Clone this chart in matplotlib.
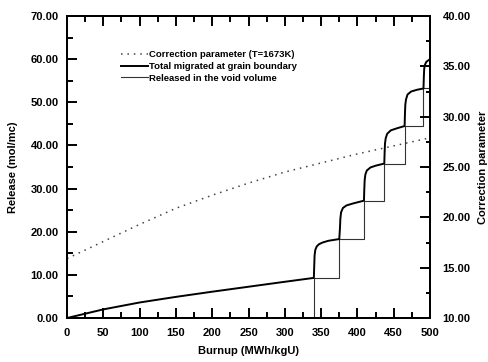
import matplotlib
matplotlib.use("Agg")
import matplotlib.pyplot as plt
from matplotlib.ticker import MultipleLocator, FormatStrFormatter

plt.rcParams['font.family'] = ['Liberation Sans', 'DejaVu Sans']
plt.rcParams['font.weight'] = 'bold'

# ---- data ----
# Correction parameter (right axis)
corr_x = [0, 50, 100, 150, 200, 250, 300, 350, 400, 450, 500]
corr_y = [15.9, 17.6, 19.3, 20.9, 22.2, 23.4, 24.5, 25.4, 26.3, 27.1, 27.9]

# Total migrated at grain boundary (left axis)
total_x = [0, 25, 50, 100, 150, 200, 250, 300, 340,
           340.5, 341, 342, 344, 347, 352, 360, 375,
           376, 376.5, 377.5, 380, 385, 395, 409,
           409.5, 410, 411, 413, 418, 425, 437,
           437.5, 438, 439, 441, 446, 455, 465,
           465.5, 466, 467, 469, 474, 482, 491,
           491.5, 492, 493, 495, 500]
total_y = [0, 1.0, 2.0, 3.6, 4.9, 6.1, 7.25, 8.4, 9.3,
           12.0, 14.5, 15.8, 16.6, 17.1, 17.5, 17.9, 18.3,
           21.0, 23.0, 24.5, 25.5, 26.1, 26.6, 27.2,
           30.0, 32.0, 33.3, 34.2, 34.9, 35.3, 35.8,
           38.5, 40.5, 41.7, 42.7, 43.5, 44.0, 44.5,
           47.5, 49.5, 50.7, 51.8, 52.5, 52.9, 53.2,
           56.0, 57.8, 58.7, 59.4, 60.0]

# Released in the void volume (left axis), step values
void_x = [0, 340, 375, 409, 437, 465, 491, 500]
void_y = [0, 9.3, 18.3, 27.2, 35.8, 44.5, 53.2, 53.2]

labels = ["Correction parameter (T=1673K)",
          "Total migrated at grain boundary",
          "Released in the void volume"]

fig = plt.figure(figsize=(4.88, 3.62), dpi=100)
ax = fig.add_axes([0.1373, 0.1215, 0.7439, 0.8343])
ax2 = ax.twinx()

l2, = ax.plot(total_x, total_y, color='black', lw=1.4, zorder=3)
l3, = ax.step(void_x, void_y, where='post', color='#333333', lw=0.8, zorder=2)
l1, = ax2.plot(corr_x, corr_y, color='#444444', lw=1.1, linestyle=(0, (1, 3.2)))

ax.set_xlim(0, 500)
ax.set_ylim(0, 70)
ax2.set_ylim(10, 40)

ax.xaxis.set_major_locator(MultipleLocator(50))
ax.xaxis.set_minor_locator(MultipleLocator(25))
ax.yaxis.set_major_locator(MultipleLocator(10))
ax.yaxis.set_minor_locator(MultipleLocator(5))
ax.yaxis.set_major_formatter(FormatStrFormatter('%.2f'))
ax2.yaxis.set_major_locator(MultipleLocator(5))
ax2.yaxis.set_minor_locator(MultipleLocator(2.5))
ax2.yaxis.set_major_formatter(FormatStrFormatter('%.2f'))

for a in (ax, ax2):
    for s in a.spines.values():
        s.set_linewidth(1.4)

ax.tick_params(axis='x', which='both', direction='in', top=True, bottom=True,
               labelsize=8, pad=7, width=1.4)
ax.tick_params(axis='x', which='major', length=7)
ax.tick_params(axis='x', which='minor', length=4)
ax.tick_params(axis='y', which='both', direction='in', left=True, right=False,
               labelsize=8, pad=6, width=1.4)
ax.tick_params(axis='y', which='major', length=7)
ax.tick_params(axis='y', which='minor', length=4)
ax2.tick_params(axis='y', which='both', direction='in', labelsize=8, pad=9, width=1.4)
ax2.tick_params(axis='y', which='major', length=7)
ax2.tick_params(axis='y', which='minor', length=3)

for t in ax.get_xticklabels() + ax.get_yticklabels() + ax2.get_yticklabels():
    t.set_fontweight('bold')

ax.set_xlabel("Burnup (MWh/kgU)", fontsize=8, fontweight='bold', labelpad=6)
ax.set_ylabel("Release (mol/mc)", fontsize=8, fontweight='bold', labelpad=9)
ax2.set_ylabel("Correction parameter", fontsize=8, fontweight='bold', labelpad=5)

leg = ax2.legend([l1, l2, l3], labels, loc='upper left',
                 bbox_to_anchor=(0.15, 0.887), frameon=False, borderaxespad=0,
                 borderpad=0, handlelength=2.8, handletextpad=0.1,
                 labelspacing=0.3, prop={'size': 6.8, 'weight': 'bold'})

fig.savefig("out.png", dpi=100)
